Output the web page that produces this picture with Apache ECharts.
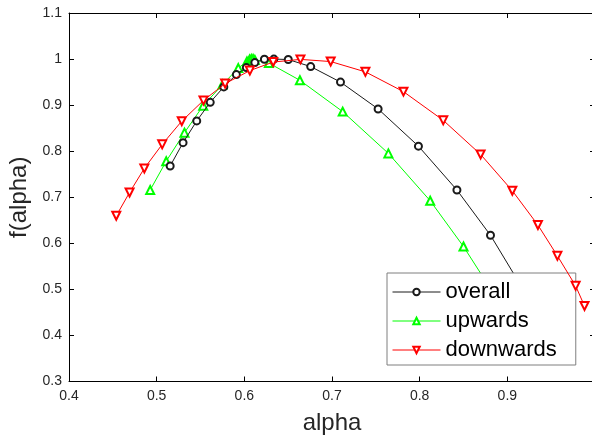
<!DOCTYPE html>
<html><head><meta charset="utf-8">
<script src="https://cdn.jsdelivr.net/npm/echarts@6/dist/echarts.min.js"></script>
<style>html,body{margin:0;padding:0;background:#fff}#c{width:592px;height:439px}</style>
</head><body><div id="c"></div>
<script>
const overallX = [0.5154,0.5301,0.5457,0.5611,0.5766,0.5909,0.6023,0.6120,0.6229,0.6337,0.6501,0.6757,0.7097,0.7526,0.7986,0.8425,0.8808,0.918];
const overallY = [0.7678,0.8185,0.8657,0.9061,0.9396,0.9663,0.9815,0.9924,0.9995,1.0000,0.9990,0.9837,0.9500,0.8917,0.8109,0.7157,0.6174,0.500];
const upX = [0.4926,0.5109,0.5317,0.5531,0.5751,0.5931,0.6030,0.6060,0.6080,0.6100,0.6120,0.6280,0.6634,0.7122,0.7643,0.8120,0.8500,0.888];
const upY = [0.7157,0.7783,0.8402,0.8989,0.9446,0.9804,0.9950,0.9990,1.0000,1.0000,0.9980,0.9913,0.9539,0.8859,0.7952,0.6924,0.5930,0.480];
const downX = [0.4539,0.4691,0.4859,0.5063,0.5286,0.5534,0.5781,0.6063,0.6329,0.6640,0.6985,0.7381,0.7815,0.8269,0.8695,0.9057,0.9349,0.9571,0.9779,0.9880];
const downY = [0.6598,0.7104,0.7626,0.8148,0.8652,0.9102,0.9467,0.9750,0.9935,0.9993,0.9946,0.9722,0.9293,0.8670,0.7930,0.7141,0.6396,0.5728,0.5076,0.4641];
const seriesNames = ['overall','upwards','downwards'];
const xTicks = {min:0.4, max:1, interval:0.1};
const yTicks = {min:0.3, max:1.1, interval:0.1};
const zip = (a,b)=>a.map((v,i)=>[v,b[i]]);
const fontFam = 'Liberation Sans, Arial, sans-serif';
const colors = ['#1a1a1a','#00ff00','#ff0000'];
const chart = echarts.init(document.getElementById('c'), null, {renderer:'canvas'});
const axisCommon = {
  axisLine:{show:true,onZero:false,lineStyle:{color:'#000',width:1}},
  axisTick:{show:true,inside:true,length:5,lineStyle:{color:'#000'}},
  splitLine:{show:false}
};
function fmt(v){ return (Math.round(v*10)/10).toString(); }
chart.setOption({
  animation:false,
  backgroundColor:'#fff',
  grid:{left:69,top:13,right:-3,bottom:57.5,containLabel:false,outerBoundsMode:'none'},
  xAxis:[
    Object.assign({type:'value',position:'bottom',min:xTicks.min,max:xTicks.max,interval:xTicks.interval,
      name:'alpha',nameLocation:'middle',nameGap:30,
      nameTextStyle:{fontSize:24,color:'#262626',fontFamily:fontFam},
      axisLabel:{show:true,fontSize:14,color:'#262626',fontFamily:fontFam,margin:8,formatter:fmt,showMaxLabel:true,showMinLabel:true}},axisCommon),
    Object.assign({type:'value',position:'top',min:xTicks.min,max:xTicks.max,interval:xTicks.interval,axisLabel:{show:false}},axisCommon)
  ],
  yAxis:[
    Object.assign({type:'value',position:'left',min:yTicks.min,max:yTicks.max,interval:yTicks.interval,
      name:'f(alpha)',nameLocation:'middle',nameGap:31,
      nameTextStyle:{fontSize:24,color:'#262626',fontFamily:fontFam},
      axisLabel:{show:true,fontSize:14,color:'#262626',fontFamily:fontFam,margin:7,formatter:fmt}},axisCommon),
    Object.assign({type:'value',position:'right',min:yTicks.min,max:yTicks.max,interval:yTicks.interval,axisLabel:{show:false}},axisCommon)
  ],
  legend:{
    left:387, top:273, orient:'vertical',
    backgroundColor:'#fff', borderColor:'#7f7f7f', borderWidth:1, borderRadius:0,
    padding:[8,19,4,5], itemGap:7, itemWidth:48, itemHeight:8,
    textStyle:{fontSize:22,color:'#000',fontFamily:fontFam},
    data:seriesNames.map((n,i)=>({name:n,
      itemStyle:{color:colors[i],borderColor:colors[i],borderWidth:1},
      lineStyle:{color:colors[i],width:1}}))
  },
  series:[
    {name:seriesNames[0],type:'line',data:zip(overallX,overallY),symbol:'emptyCircle',symbolSize:7,
     itemStyle:{color:colors[0],borderColor:colors[0],borderWidth:0.8},lineStyle:{color:colors[0],width:1},z:3},
    {name:seriesNames[1],type:'line',data:zip(upX,upY),symbol:'emptyTriangle',symbolSize:8,
     itemStyle:{color:colors[1],borderColor:colors[1],borderWidth:0.8},lineStyle:{color:colors[1],width:1},z:2},
    {name:seriesNames[2],type:'line',data:zip(downX,downY),symbol:'emptyTriangle',symbolRotate:180,symbolSize:8,
     itemStyle:{color:colors[2],borderColor:colors[2],borderWidth:0.8},lineStyle:{color:colors[2],width:1},z:4}
  ]
});
</script></body></html>
